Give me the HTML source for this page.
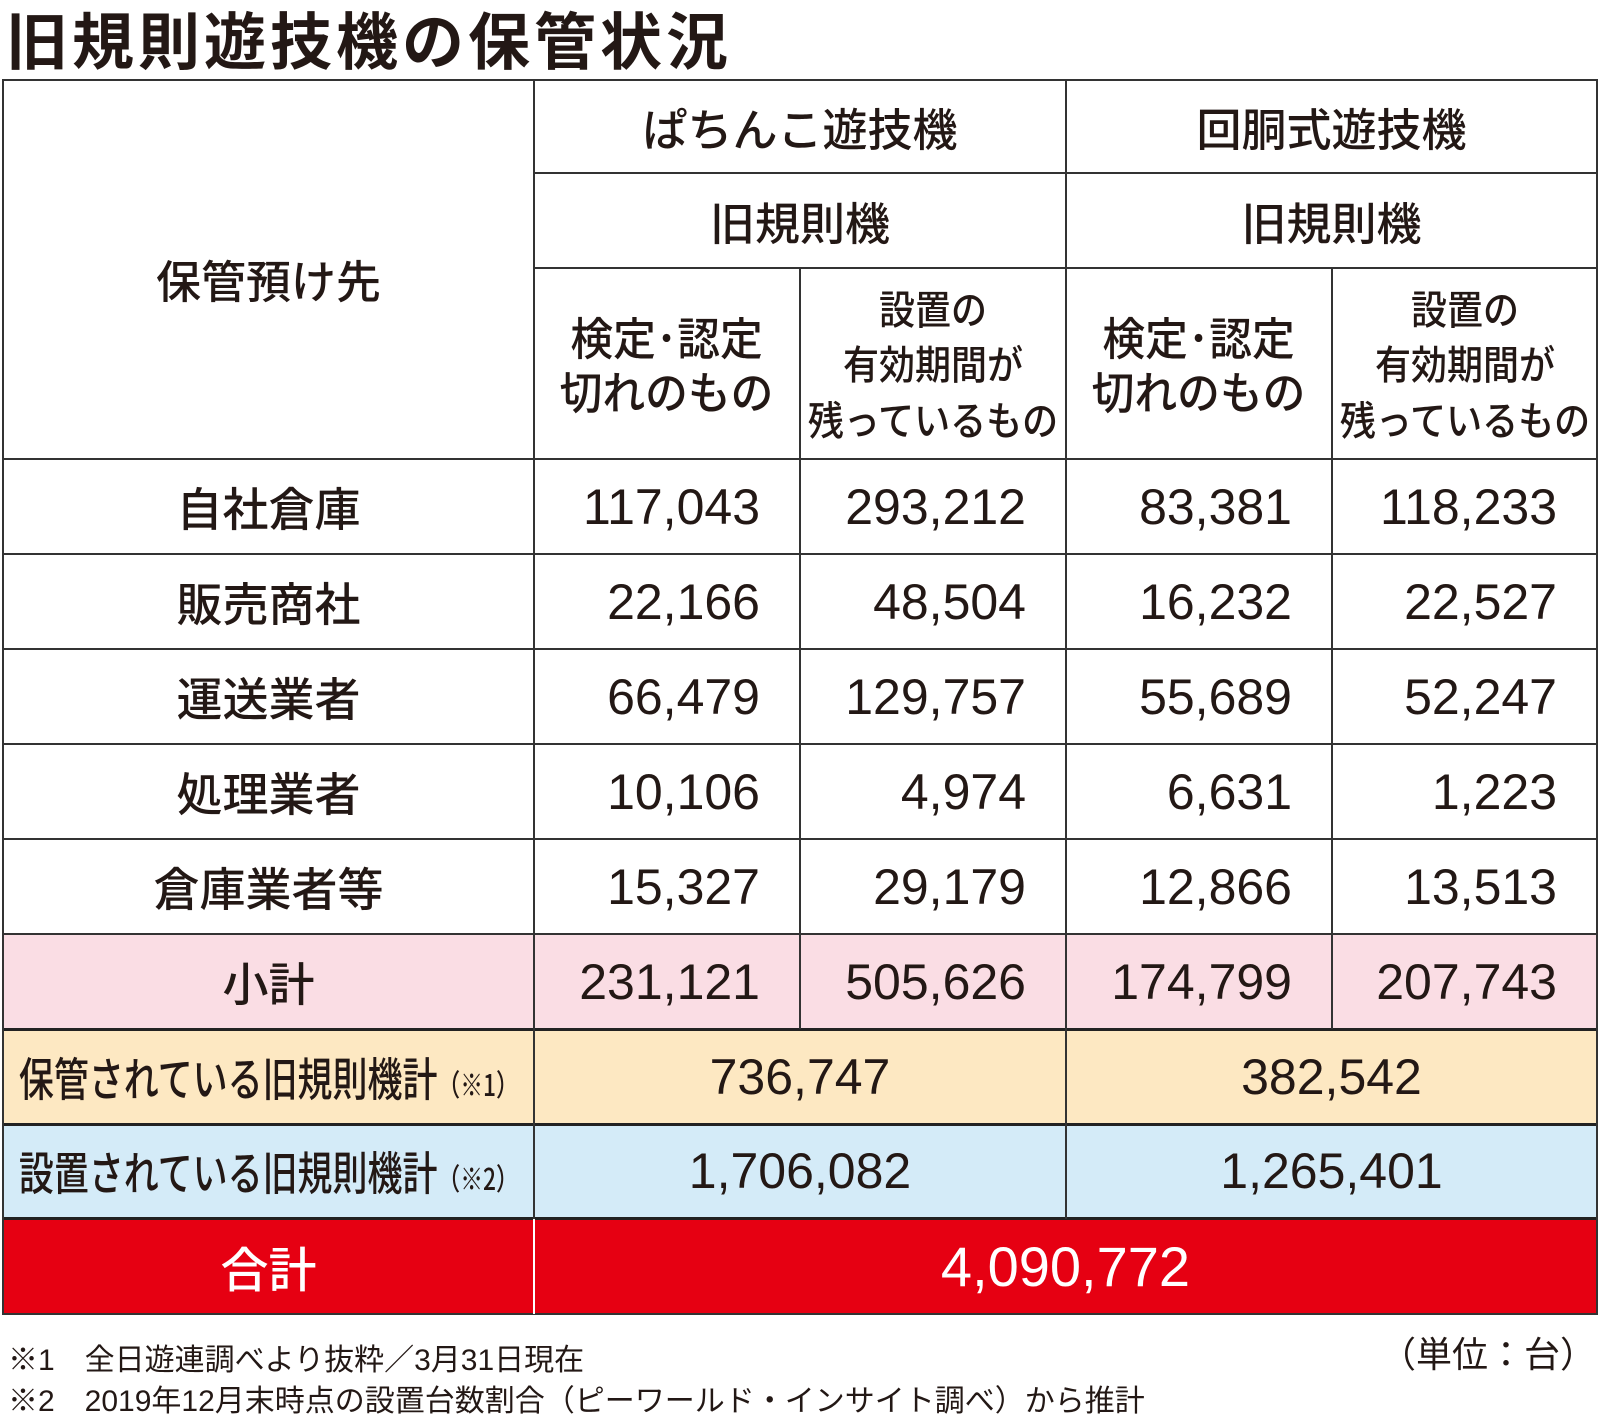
<!DOCTYPE html>
<html><head><meta charset="utf-8"><style>
body{margin:0;width:1600px;height:1420px;background:#fff;position:relative;overflow:hidden;font-family:"Liberation Sans","Noto Sans CJK JP",sans-serif;color:#231815}
.c{position:absolute;display:flex;align-items:center;justify-content:center;text-align:center;box-sizing:border-box}
.h{position:absolute;background:#333;height:2px}
.v{position:absolute;background:#333;width:2px}
.hd{font-size:45px;line-height:1.2;font-weight:500;font-family:"Noto Sans CJK JP",sans-serif}
.sm{font-size:40px;line-height:1.38;font-weight:500;font-family:"Noto Sans CJK JP",sans-serif;white-space:nowrap}
.sm span{display:inline-block;transform:scaleX(0.9)}
.n{font-size:50px;justify-content:flex-end;padding-right:40px}
.lab{font-size:46px;font-weight:500;font-family:"Noto Sans CJK JP",sans-serif}
</style></head><body>
<div style="position:absolute;left:6px;top:-8px;font-size:62px;font-weight:bold;letter-spacing:4px;font-family:'Noto Sans CJK JP',sans-serif">旧規則遊技機の保管状況</div>

<div style="position:absolute;left:3px;top:934px;width:1594px;height:95px;background:#fadde4"></div>
<div style="position:absolute;left:3px;top:1029px;width:1594px;height:95px;background:#fde8c2"></div>
<div style="position:absolute;left:3px;top:1124px;width:1594px;height:94px;background:#d4ebf8"></div>
<div style="position:absolute;left:3px;top:1218px;width:1594px;height:96px;background:#e60012"></div>

<div class="h" style="left:3px;top:79px;width:1594px"></div>
<div class="h" style="left:534px;top:172px;width:1063px"></div>
<div class="h" style="left:534px;top:267px;width:1063px"></div>
<div class="h" style="left:3px;top:458px;width:1594px"></div>
<div class="h" style="left:3px;top:553px;width:1594px"></div>
<div class="h" style="left:3px;top:648px;width:1594px"></div>
<div class="h" style="left:3px;top:743px;width:1594px"></div>
<div class="h" style="left:3px;top:838px;width:1594px"></div>
<div class="h" style="left:3px;top:933px;width:1594px"></div>
<div class="h" style="left:3px;top:1028px;width:1594px;height:3px;background:#222"></div>
<div class="h" style="left:3px;top:1123px;width:1594px;height:3px;background:#222"></div>
<div class="h" style="left:3px;top:1217px;width:1594px;height:3px;background:#222"></div>
<div class="h" style="left:3px;top:1313px;width:1594px"></div>
<div class="v" style="left:2px;top:79px;height:1236px"></div>
<div class="v" style="left:1596px;top:79px;height:1236px"></div>
<div class="v" style="left:533px;top:79px;height:1140px"></div>
<div class="v" style="left:533px;top:1219px;height:95px;background:#fff"></div>
<div class="v" style="left:1065px;top:79px;height:1140px"></div>
<div class="v" style="left:799px;top:268px;height:761px"></div>
<div class="v" style="left:1331px;top:268px;height:761px"></div>

<div class="c hd" style="left:3px;top:80px;width:531px;height:378px;padding-top:20px">保管預け先</div>
<div class="c hd" style="left:534px;top:80px;width:532px;height:93px">ぱちんこ遊技機</div>
<div class="c hd" style="left:1066px;top:80px;width:531px;height:93px">回胴式遊技機</div>
<div class="c hd" style="left:534px;top:173px;width:532px;height:95px">旧規則機</div>
<div class="c hd" style="left:1066px;top:173px;width:531px;height:95px">旧規則機</div>
<div class="c hd" style="left:534px;top:268px;width:266px;height:190px;line-height:1.2;white-space:nowrap"><span style="display:inline-block;transform:scaleX(0.95)">検定･認定<br>切れのもの</span></div>
<div class="c sm" style="left:800px;top:268px;width:266px;height:190px"><span>設置の<br>有効期間が<br>残っているもの</span></div>
<div class="c hd" style="left:1066px;top:268px;width:266px;height:190px;line-height:1.2;white-space:nowrap"><span style="display:inline-block;transform:scaleX(0.95)">検定･認定<br>切れのもの</span></div>
<div class="c sm" style="left:1332px;top:268px;width:265px;height:190px"><span>設置の<br>有効期間が<br>残っているもの</span></div>

<div class="c lab" style="left:3px;top:459px;width:531px;height:95px">自社倉庫</div>
<div class="c n" style="left:534px;top:459px;width:266px;height:95px">117,043</div>
<div class="c n" style="left:800px;top:459px;width:266px;height:95px">293,212</div>
<div class="c n" style="left:1066px;top:459px;width:266px;height:95px">83,381</div>
<div class="c n" style="left:1332px;top:459px;width:265px;height:95px">118,233</div>

<div class="c lab" style="left:3px;top:554px;width:531px;height:95px">販売商社</div>
<div class="c n" style="left:534px;top:554px;width:266px;height:95px">22,166</div>
<div class="c n" style="left:800px;top:554px;width:266px;height:95px">48,504</div>
<div class="c n" style="left:1066px;top:554px;width:266px;height:95px">16,232</div>
<div class="c n" style="left:1332px;top:554px;width:265px;height:95px">22,527</div>

<div class="c lab" style="left:3px;top:649px;width:531px;height:95px">運送業者</div>
<div class="c n" style="left:534px;top:649px;width:266px;height:95px">66,479</div>
<div class="c n" style="left:800px;top:649px;width:266px;height:95px">129,757</div>
<div class="c n" style="left:1066px;top:649px;width:266px;height:95px">55,689</div>
<div class="c n" style="left:1332px;top:649px;width:265px;height:95px">52,247</div>

<div class="c lab" style="left:3px;top:744px;width:531px;height:95px">処理業者</div>
<div class="c n" style="left:534px;top:744px;width:266px;height:95px">10,106</div>
<div class="c n" style="left:800px;top:744px;width:266px;height:95px">4,974</div>
<div class="c n" style="left:1066px;top:744px;width:266px;height:95px">6,631</div>
<div class="c n" style="left:1332px;top:744px;width:265px;height:95px">1,223</div>

<div class="c lab" style="left:3px;top:839px;width:531px;height:95px">倉庫業者等</div>
<div class="c n" style="left:534px;top:839px;width:266px;height:95px">15,327</div>
<div class="c n" style="left:800px;top:839px;width:266px;height:95px">29,179</div>
<div class="c n" style="left:1066px;top:839px;width:266px;height:95px">12,866</div>
<div class="c n" style="left:1332px;top:839px;width:265px;height:95px">13,513</div>

<div class="c lab" style="left:3px;top:934px;width:531px;height:95px">小計</div>
<div class="c n" style="left:534px;top:934px;width:266px;height:95px">231,121</div>
<div class="c n" style="left:800px;top:934px;width:266px;height:95px">505,626</div>
<div class="c n" style="left:1066px;top:934px;width:266px;height:95px">174,799</div>
<div class="c n" style="left:1332px;top:934px;width:265px;height:95px">207,743</div>

<div class="c" style="left:3px;top:1029px;width:531px;height:95px;font-size:46px;font-weight:500;font-family:'Noto Sans CJK JP',sans-serif"><span style="display:inline-block;transform:scaleX(0.76);white-space:nowrap">保管されている旧規則機計<span style="font-size:30px">（※1）</span></span></div>
<div class="c" style="left:534px;top:1029px;width:532px;height:95px;font-size:50px">736,747</div>
<div class="c" style="left:1066px;top:1029px;width:531px;height:95px;font-size:50px">382,542</div>

<div class="c" style="left:3px;top:1124px;width:531px;height:94px;font-size:46px;font-weight:500;font-family:'Noto Sans CJK JP',sans-serif"><span style="display:inline-block;transform:scaleX(0.76);white-space:nowrap">設置されている旧規則機計<span style="font-size:30px">（※2）</span></span></div>
<div class="c" style="left:534px;top:1124px;width:532px;height:94px;font-size:50px">1,706,082</div>
<div class="c" style="left:1066px;top:1124px;width:531px;height:94px;font-size:50px">1,265,401</div>

<div class="c" style="left:3px;top:1218px;width:531px;height:96px;font-size:48px;color:#fff;font-weight:500;font-family:'Noto Sans CJK JP',sans-serif">合計</div>
<div class="c" style="left:534px;top:1218px;width:1063px;height:96px;font-size:56px;color:#fff">4,090,772</div>

<div style="position:absolute;left:8px;top:1335px;font-size:30px;white-space:nowrap">※1　全日遊連調べより抜粋／3月31日現在</div>
<div style="position:absolute;left:8px;top:1376px;font-size:30px;white-space:nowrap">※2　2019年12月末時点の設置台数割合（ピーワールド・インサイト調べ）から推計</div>
<div style="position:absolute;right:4px;top:1326px;font-size:36px;white-space:nowrap">（単位：台）</div>
</body></html>
